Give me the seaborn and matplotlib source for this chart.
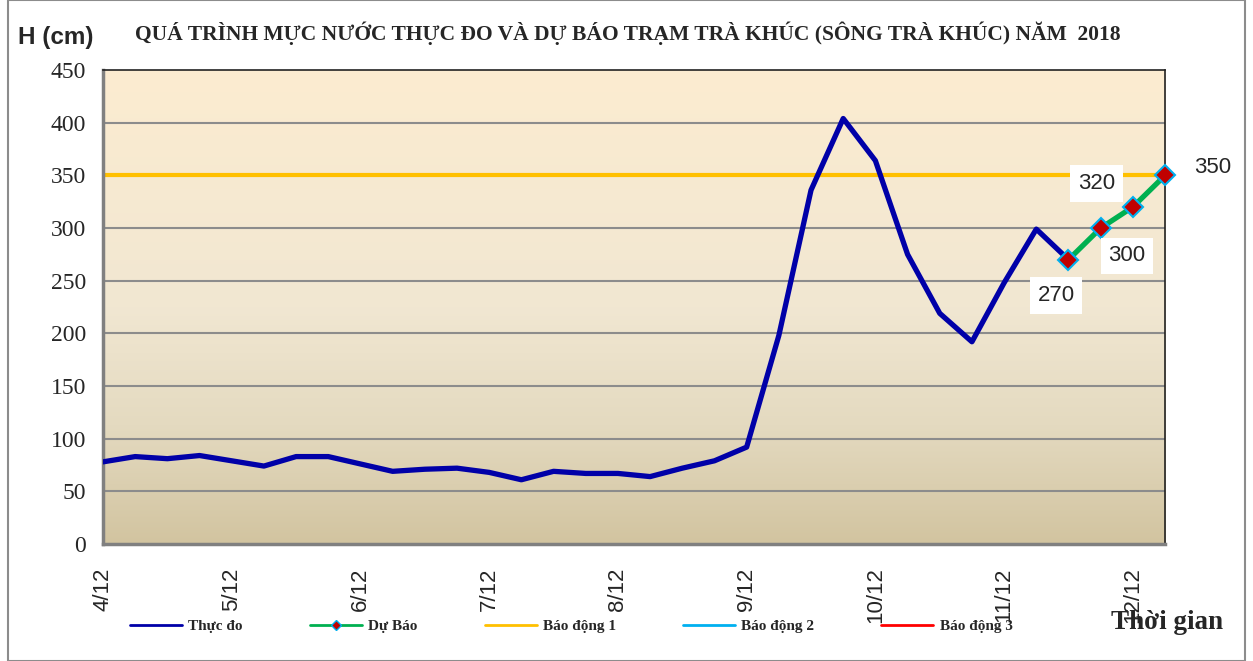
import numpy as np
import pandas as pd
import matplotlib
matplotlib.use("Agg")
import matplotlib.pyplot as plt
import seaborn as sns
from matplotlib.colors import LinearSegmentedColormap
from matplotlib.lines import Line2D
from matplotlib.patches import Rectangle

# Observed water level (6-hourly), 4/12 00h -> 11/12 12h
obs_level = [78, 83, 81, 84, 79, 74, 83, 83, 76, 69, 71, 72, 68, 61, 69, 67,
             67, 64, 72, 79, 92, 198, 336, 404, 364, 275, 219, 192, 248, 299, 270]
# Forecast, starting from the last observed step
fc_level = [270, 300, 320, 350]
fc_start = 30
# Alarm levels (cm)
alarm_levels = [350, 500, 650]
day_labels = ["4/12", "5/12", "6/12", "7/12", "8/12", "9/12", "10/12", "11/12", "12/12"]
steps_per_day = 4

df_obs = pd.DataFrame({"step": np.arange(len(obs_level)), "H": obs_level})
df_fc = pd.DataFrame({"step": np.arange(fc_start, fc_start + len(fc_level)), "H": fc_level})
n_steps = fc_start + len(fc_level) - 1

sns.set_style("white")
plt.rcParams["font.family"] = ["Liberation Serif", "DejaVu Serif"]

fig = plt.figure(figsize=(12.53, 6.61), dpi=100)
ax = fig.add_axes([0.0822, 0.177, 0.8476, 0.717])

# gradient background
cmap = LinearSegmentedColormap.from_list(
    "bg", [(0, "#d2c4a0"), (0.25, "#e4dac0"), (0.5, "#f1e7d2"), (1, "#fcecd0")])
grad = np.linspace(0, 1, 256).reshape(-1, 1)
ax.imshow(grad, cmap=cmap, origin="lower", aspect="auto",
          extent=[0, n_steps, 0, 450], zorder=0)

for y in range(50, 450, 50):
    ax.axhline(y, color="#8c8c8c", lw=1.5, zorder=1)

alarm_colors = ["#ffc000", "#00b0f0", "#ff0000"]
for lvl, c in zip(alarm_levels, alarm_colors):
    ax.axhline(lvl, color=c, lw=3, zorder=2)

sns.lineplot(data=df_obs, x="step", y="H", ax=ax, color="#0000a8", lw=3.8,
             zorder=3, legend=False)
sns.lineplot(data=df_fc, x="step", y="H", ax=ax, color="#00b050", lw=3.8,
             marker="D", markersize=10, markerfacecolor="#c00000",
             markeredgecolor="#00b0f0", markeredgewidth=1.5, zorder=4,
             legend=False, clip_on=False)

# data labels
offsets = [(-9, -26), (19, -20), (-26, 17), (34, 6)]
for (s, h), (dx, dy) in zip(zip(df_fc["step"], df_fc["H"]), offsets):
    ax.annotate(str(h), (s, h), xytext=(dx, dy), textcoords="offset points",
                ha="center", va="center", fontsize=16, family="Liberation Sans",
                bbox=dict(boxstyle="square,pad=0.35", fc="white", ec="none"),
                zorder=5, annotation_clip=False)

ax.set_xlim(0, n_steps)
ax.set_ylim(0, 450)
ax.set_yticks(range(0, 451, 50))
ax.set_xticks(range(n_steps + 1))
ax.set_xticklabels([day_labels[i // steps_per_day] if i % steps_per_day == 0 else ""
                    for i in range(n_steps + 1)],
                   rotation=90, family="Liberation Sans", fontsize=16, va="top")
ax.tick_params(axis="x", direction="in", length=5, color="#8c8c8c", width=1.5, pad=17)
ax.tick_params(axis="y", direction="out", length=6, color="#8c8c8c", width=1.5,
               labelsize=17, pad=6)
ax.set_xlabel("")
ax.set_ylabel("")
for side in ["left", "bottom"]:
    ax.spines[side].set_color("#808080")
    ax.spines[side].set_linewidth(2.5)
for side in ["top", "right"]:
    ax.spines[side].set_color("#222222")
    ax.spines[side].set_linewidth(1.2)

fig.text(0.501, 0.95, "QUÁ TRÌNH MỰC NƯỚC THỰC ĐO VÀ DỰ BÁO TRẠM TRÀ KHÚC (SÔNG TRÀ KHÚC) NĂM  2018",
         ha="center", va="center", fontsize=15.5, fontweight="bold")
fig.text(0.014, 0.943, "H (cm)", ha="left", va="center", fontsize=17.5,
         fontweight="bold", family="Liberation Sans")
fig.text(0.976, 0.058, "Thời gian", ha="right", va="center", fontsize=19.5,
         fontweight="bold")

handles = [
    Line2D([], [], color="#0000a8", lw=2),
    Line2D([], [], color="#00b050", lw=2, marker="D", markersize=5,
           markerfacecolor="#c00000", markeredgecolor="#00b0f0"),
    Line2D([], [], color=alarm_colors[0], lw=2),
    Line2D([], [], color=alarm_colors[1], lw=2),
    Line2D([], [], color=alarm_colors[2], lw=2),
]
labels = ["Thực đo", "Dự Báo", "Báo động 1", "Báo động 2", "Báo động 3"]
fig.legend(handles, labels, loc="center", bbox_to_anchor=(0.456, 0.052), ncol=5,
           frameon=False, prop={"weight": "bold", "size": 11},
           handlelength=3.4, columnspacing=4.4, handletextpad=0.4)

fig.patches.append(Rectangle((0.006, 0.0), 0.988, 1.0, transform=fig.transFigure,
                             fill=False, ec="#8c8c8c", lw=1.5))

fig.savefig("out.png", dpi=100)
